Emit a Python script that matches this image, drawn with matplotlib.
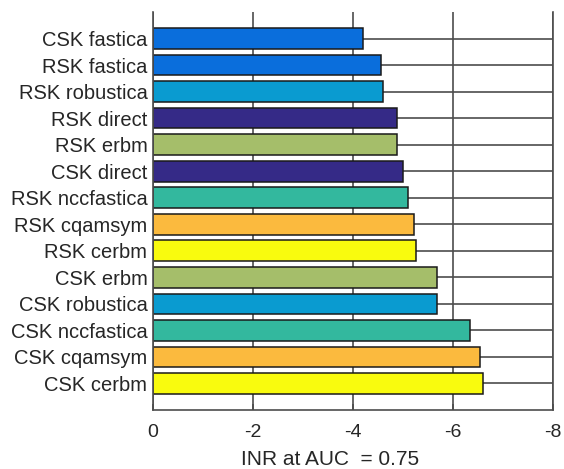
import matplotlib
matplotlib.use("Agg")
import matplotlib.pyplot as plt
import numpy as np

plt.rcParams['font.family'] = ['Liberation Sans', 'DejaVu Sans']

# categories top -> bottom
labels = ["CSK fastica", "RSK fastica", "RSK robustica", "RSK direct", "RSK erbm",
          "CSK direct", "RSK nccfastica", "RSK cqamsym", "RSK cerbm", "CSK erbm",
          "CSK robustica", "CSK nccfastica", "CSK cqamsym", "CSK cerbm"]
inr = [-4.19, -4.55, -4.59, -4.87, -4.87, -4.99, -5.09, -5.21, -5.25, -5.68,
       -5.68, -6.34, -6.53, -6.59]

# colour per algorithm
algo_colors = {
    "fastica": "#0a6edc",
    "robustica": "#0a9bd0",
    "direct": "#352a87",
    "erbm": "#a5be6a",
    "nccfastica": "#33b89e",
    "cqamsym": "#fbba3e",
    "cerbm": "#f9fb0e",
}
colors = [algo_colors[l.split()[1]] for l in labels]

xticks = [0, -2, -4, -6, -8]

fig = plt.figure(figsize=(5.64, 4.69), dpi=100)
ax = fig.add_axes([153/564, 59/469, 400/564, 398/469])

pos = np.arange(1, len(labels) + 1)
grid_c = "#4d4d4d"
for p in pos:
    ax.axhline(p, color=grid_c, lw=1.2, zorder=0)
for t in xticks:
    ax.axvline(t, color=grid_c, lw=1.2, zorder=0)

ax.barh(pos, inr, height=0.78, color=colors, edgecolor="#1a1a1a", linewidth=1.1, zorder=2)

ax.set_xlim(0, -8)
ax.set_ylim(15, 0)
ax.set_yticks(pos)
ax.set_yticklabels(labels, fontsize=14.5)
ax.set_xticks(xticks)
ax.set_xticklabels([str(t) for t in xticks], fontsize=14)
ax.tick_params(axis='y', length=0, pad=4, colors="#262626")
ax.tick_params(axis='x', direction='in', length=4, width=1.2, color=grid_c, pad=10, labelcolor="#262626")
ax.set_xlabel("INR at AUC  = 0.75", fontsize=15, color="#262626")
ax.xaxis.set_label_coords(0.4425, -0.1)

ax.spines['top'].set_visible(False)
for s in ['left', 'right', 'bottom']:
    ax.spines[s].set_color(grid_c)
    ax.spines[s].set_linewidth(1.2)

fig.savefig("out.png", dpi=100)
